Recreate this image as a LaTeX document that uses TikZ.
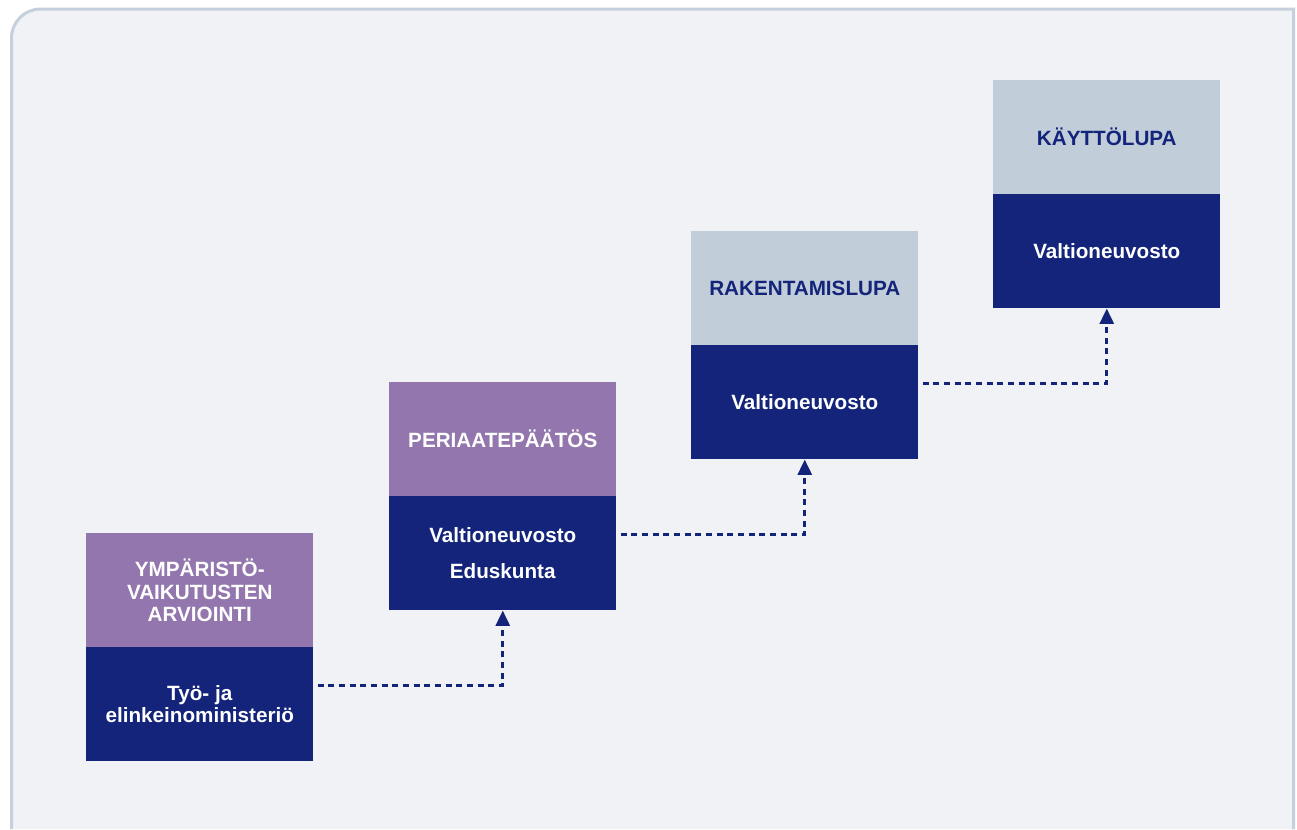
\documentclass[tikz,border=0pt]{standalone}
\usepackage{fontspec}
\setmainfont{Liberation Sans}
\usetikzlibrary{arrows.meta}
\definecolor{navy}{HTML}{13247A}
\definecolor{purp}{HTML}{9276AD}
\definecolor{greyb}{HTML}{C1CDD9}
\definecolor{bgc}{HTML}{F0F2F6}
\definecolor{brd}{HTML}{C5D0DC}
\begin{document}
\begin{tikzpicture}[x=0.75pt,y=-0.75pt,
  box/.style={draw=none, minimum width=170.25pt, minimum height=85.5pt, anchor=north west, inner sep=0pt, align=center, font=\bfseries\fontsize{15.5}{16.5}\selectfont},
  purplebox/.style={box, fill=purp, text=white},
  greybox/.style={box, fill=greyb, text=navy},
  navybox/.style={box, fill=navy, text=white},
  conn/.style={draw=navy, line width=2pt, dash pattern=on 4.5pt off 3.5pt, -{Triangle[width=10.5pt,length=11.5pt]}}
]
\useasboundingbox (0,0) rectangle (1297,829);
\fill[white] (0,0) rectangle (1297,829);
\fill[bgc] (11.5,829) -- (11.5,38) arc[start angle=180, end angle=90, radius=21.75pt] -- (1293.5,9) -- (1293.5,829) -- cycle;
\draw[brd, line width=2.25pt] (11.5,829) -- (11.5,38) arc[start angle=180, end angle=90, radius=21.75pt] -- (1293.5,9) -- (1293.5,829);

\node[purplebox] (b1up) at (86,533) {YMPÄRISTÖ-\\VAIKUTUSTEN\\ARVIOINTI};
\node[navybox] (b1lo) at (86,647) {Työ- ja\\elinkeinoministeriö};

\node[purplebox] (b2up) at (389,382) {PERIAATEPÄÄTÖS};
\node[navybox] (b2lo) at (389,496) {Valtioneuvosto\\[10.5pt]Eduskunta};

\node[greybox] (b3up) at (691,231) {RAKENTAMISLUPA};
\node[navybox] (b3lo) at (691,345) {Valtioneuvosto};

\node[greybox] (b4up) at (993,80) {KÄYTTÖLUPA};
\node[navybox] (b4lo) at (993,194) {Valtioneuvosto};

\draw[conn] ([xshift=3pt,yshift=14.25pt]b1lo.east) -| (b2lo.south);
\draw[conn] ([xshift=3pt,yshift=14.25pt]b2lo.east) -| (b3lo.south);
\draw[conn] ([xshift=3pt,yshift=14.25pt]b3lo.east) -| (b4lo.south);
\end{tikzpicture}
\end{document}
